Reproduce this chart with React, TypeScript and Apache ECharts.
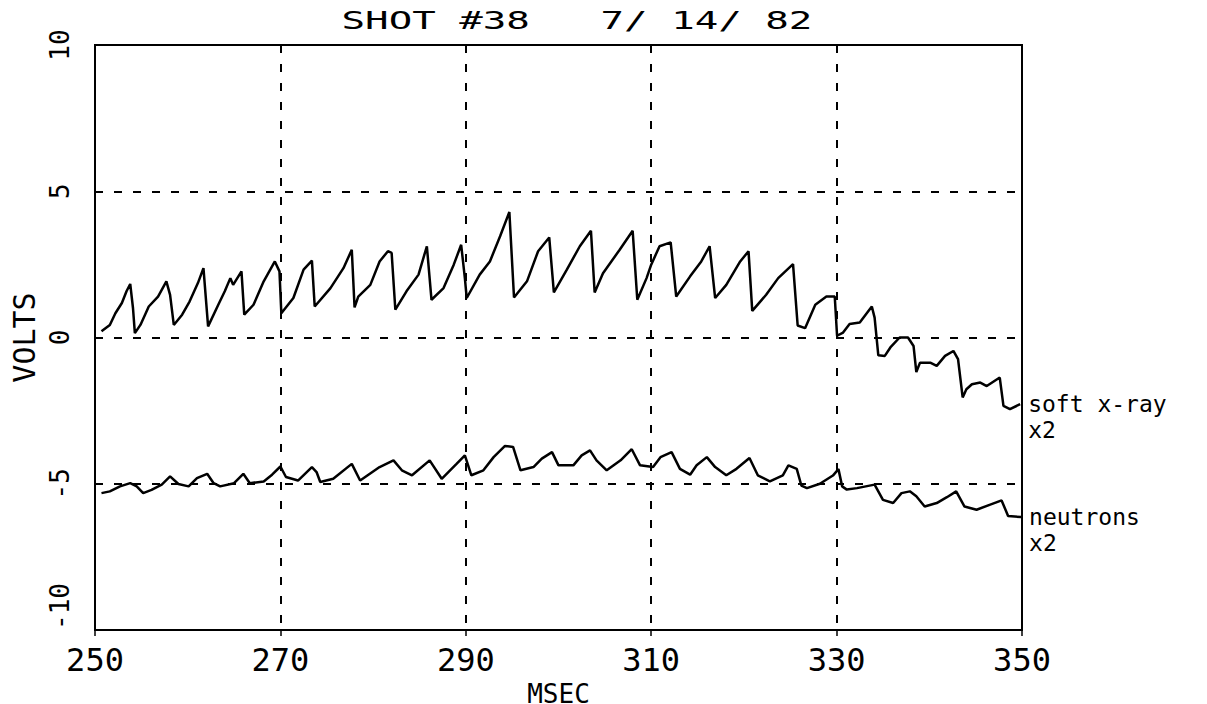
import React, { useEffect, useRef } from "react";
import * as echarts from "echarts";

const titleText = "SHOT #38   7/ 14/ 82";
const xName = "MSEC";
const yName = "VOLTS";
const xTicks = [250, 270, 290, 310, 330, 350];
const yTicks = [-10, -5, 0, 5, 10];

const sxrTime = [
  250.7, 251.6, 252.2, 252.9, 253.4, 253.8, 254.1, 254.3, 254.9, 255.8, 256.8, 257.7, 258.1, 258.5,
  259.4, 260.2, 261.1, 261.7, 262.2, 263.3, 264.0, 264.6, 264.9, 265.8, 266.1, 267.1, 268.2, 269.4,
  269.9, 270.1, 271.4, 272.5, 273.4, 273.7, 275.4, 276.8, 277.7, 278.0, 278.4, 279.7, 280.7, 281.6,
  282.0, 282.4, 283.6, 284.9, 285.8, 286.3, 287.6, 288.7, 289.5, 289.9, 290.1, 291.5, 292.6, 293.7,
  294.7, 295.2, 296.6, 297.8, 299.0, 299.5, 300.9, 302.3, 303.5, 303.9, 304.8, 306.6, 308.0, 308.5,
  309.5, 310.0, 310.9, 312.1, 312.7, 314.2, 315.4, 316.3, 316.9, 318.1, 319.6, 320.5, 320.9, 322.4,
  323.7, 325.3, 325.8, 326.6, 327.7, 328.9, 329.8, 330.05, 330.7, 331.4, 332.5, 333.8, 334.1, 334.5,
  335.2, 335.8, 336.8, 337.7, 338.3, 338.6, 339.0, 340.1, 340.8, 341.7, 342.6, 343.1, 343.6, 344.0,
  344.6, 345.5, 346.2, 347.6, 348.0, 348.7, 349.8,
];
const sxrVolts = [
  0.21, 0.43, 0.83, 1.18, 1.58, 1.83, 1.0, 0.15, 0.43, 1.06, 1.4, 1.92, 1.46, 0.43,
  0.78, 1.23, 1.86, 2.37, 0.38, 1.12, 1.58, 2.03, 1.8, 2.26, 0.78, 1.12, 1.92, 2.6,
  2.26, 0.83, 1.35, 2.32, 2.63, 1.06, 1.69, 2.37, 3.0, 1.03, 1.4, 1.8, 2.6, 2.95,
  2.89, 0.95, 1.58, 2.15, 3.12, 1.29, 1.69, 2.49, 3.17, 2.03, 1.35, 2.15, 2.6, 3.46,
  4.29, 1.37, 1.92, 2.95, 3.42, 1.54, 2.32, 3.12, 3.65, 1.54, 2.2, 3.0, 3.65, 1.29,
  2.03, 2.49, 3.12, 3.25, 1.4, 2.09, 2.6, 3.12, 1.35, 1.8, 2.6, 2.95, 0.91, 1.46,
  2.03, 2.51, 0.41, 0.32, 1.12, 1.4, 1.4, 0.06, 0.17, 0.46, 0.51, 1.06, 0.68, -0.61,
  -0.63, -0.34, 0.0, 0.0, -0.29, -1.18, -0.86, -0.86, -0.97, -0.63, -0.46, -0.74, -2.05, -1.77,
  -1.6, -1.54, -1.66, -1.37, -2.34, -2.45, -2.28,
];

const neuTime = [
  250.7, 251.6, 252.7, 253.8, 254.5, 255.2, 256.1, 257.2, 258.1, 259.0, 260.1, 261.0, 262.1, 262.8,
  263.5, 265.0, 266.0, 266.7, 268.2, 269.1, 270.0, 270.6, 271.9, 273.4, 273.9, 274.3, 275.7, 277.7,
  278.6, 280.7, 282.2, 283.1, 284.2, 286.1, 287.4, 289.0, 289.9, 290.6, 291.9, 293.0, 294.2, 295.1,
  295.9, 297.3, 298.2, 299.3, 300.0, 301.6, 302.5, 303.4, 304.1, 305.2, 306.7, 307.9, 308.8, 310.2,
  311.0, 312.2, 313.1, 314.2, 314.9, 316.0, 316.9, 318.1, 319.2, 320.6, 321.5, 322.8, 324.2, 324.8,
  325.7, 326.2, 326.8, 328.2, 329.6, 330.2, 330.6, 331.1, 332.2, 334.1, 335.0, 336.1, 337.0, 337.9,
  338.6, 339.5, 340.8, 341.9, 342.9, 343.8, 345.1, 346.5, 347.8, 348.5, 349.9,
];
const neuVolts = [
  -5.32, -5.26, -5.09, -4.98, -5.09, -5.32, -5.21, -5.03, -4.75, -5.01, -5.09, -4.81, -4.66, -4.98,
  -5.09, -4.98, -4.66, -4.98, -4.92, -4.69, -4.41, -4.77, -4.89, -4.43, -4.6, -4.94, -4.83, -4.32,
  -4.89, -4.43, -4.2, -4.54, -4.71, -4.2, -4.83, -4.32, -4.03, -4.71, -4.54, -4.09, -3.71, -3.74,
  -4.54, -4.43, -4.14, -3.92, -4.37, -4.37, -4.03, -3.86, -4.2, -4.54, -4.2, -3.82, -4.37, -4.43,
  -4.09, -3.92, -4.49, -4.69, -4.37, -4.09, -4.43, -4.71, -4.49, -4.12, -4.71, -4.92, -4.71, -4.37,
  -4.49, -5.06, -5.15, -5.0, -4.72, -4.5, -5.09, -5.2, -5.15, -5.03, -5.55, -5.66, -5.32, -5.26,
  -5.43, -5.78, -5.66, -5.46, -5.26, -5.78, -5.89, -5.72, -5.57, -6.1, -6.14,
];

const sxrLabel = "soft x-ray\nx2";
const neuLabel = "neutrons\nx2";

const MONO = "DejaVu Sans Mono";

export default function App() {
  const ref = useRef<HTMLDivElement>(null);
  useEffect(() => {
    if (!ref.current) return;
    const chart = echarts.init(ref.current, undefined, { renderer: "svg", width: 1207, height: 704 });
    const sxr = sxrTime.map((t, i) => [t, sxrVolts[i]]);
    const neu = neuTime.map((t, i) => [t, neuVolts[i]]);
    const endLabel = (text: string) => ({
      show: true,
      formatter: () => text,
      color: "#000",
      fontFamily: MONO,
      fontSize: 23,
      lineHeight: 26,
      align: "left",
      distance: 8,
      offset: [0, 13],
    });
    chart.setOption({
      animation: false,
      backgroundColor: "#fff",
      grid: {
        left: 95,
        right: 185,
        top: 45,
        bottom: 74,
        show: true,
        borderColor: "#000",
        borderWidth: 2,
        containLabel: false,
        outerBoundsMode: "none",
      },
      graphic: [
        {
          type: "text",
          x: 577,
          y: 21,
          scaleX: 1.63,
          style: {
            text: titleText,
            fill: "#000",
            font: `24px '${MONO}'`,
            textAlign: "center",
            textVerticalAlign: "middle",
          },
        },
      ],
      xAxis: {
        type: "value",
        min: xTicks[0],
        max: xTicks[xTicks.length - 1],
        interval: 20,
        name: xName,
        nameLocation: "middle",
        nameGap: 32,
        nameTextStyle: { color: "#000", fontFamily: MONO, fontSize: 26 },
        axisLine: { show: true, onZero: false, lineStyle: { color: "#000", width: 2 } },
        axisTick: { show: true, length: 6, lineStyle: { color: "#000", width: 1.5 } },
        axisLabel: { color: "#000", fontFamily: MONO, fontSize: 32, margin: 14 },
        splitLine: { show: true, lineStyle: { color: "#000", width: 2, type: [8, 11] } },
      },
      yAxis: {
        type: "value",
        min: yTicks[0],
        max: yTicks[yTicks.length - 1],
        interval: 5,
        name: yName,
        nameLocation: "middle",
        nameRotate: 90,
        nameGap: 52,
        nameTextStyle: { color: "#000", fontFamily: MONO, fontSize: 30 },
        axisLine: { show: true, onZero: false, lineStyle: { color: "#000", width: 2 } },
        axisTick: { show: false },
        axisLabel: {
          color: "#000",
          fontFamily: MONO,
          fontSize: 26,
          rotate: 90,
          margin: 22,
          alignMinLabel: "left",
        },
        splitLine: { show: true, lineStyle: { color: "#000", width: 2, type: [8, 11] } },
      },
      series: [
        {
          name: "soft x-ray x2",
          type: "line",
          data: sxr,
          symbol: "none",
          lineStyle: { color: "#000", width: 2.5 },
          endLabel: endLabel(sxrLabel),
        },
        {
          name: "neutrons x2",
          type: "line",
          data: neu,
          symbol: "none",
          lineStyle: { color: "#000", width: 2.5 },
          endLabel: endLabel(neuLabel),
        },
      ],
    });
    return () => chart.dispose();
  }, []);
  return (
    <div
      ref={ref}
      style={{ position: "fixed", left: 0, top: 0, width: 1207, height: 704, background: "#fff" }}
    />
  );
}
